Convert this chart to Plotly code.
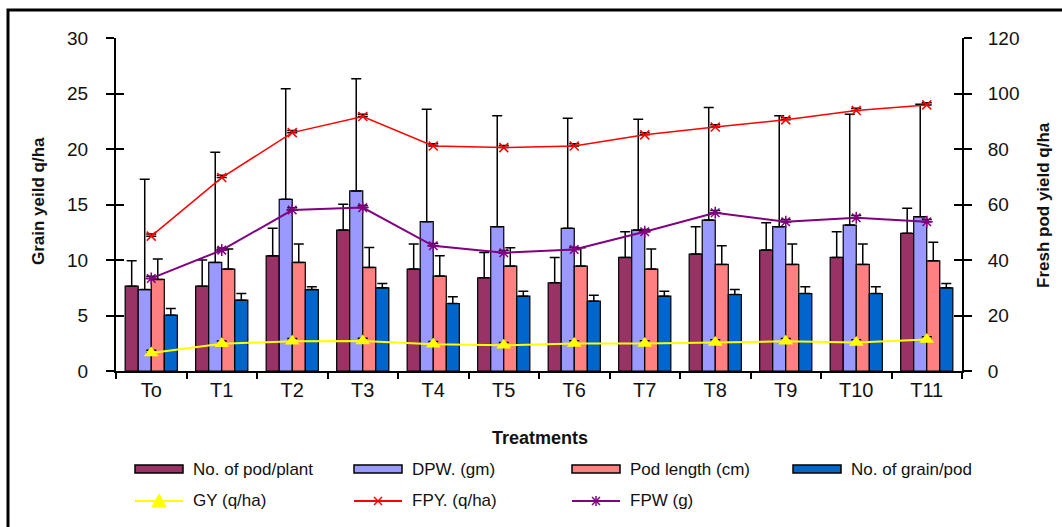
import plotly.graph_objects as go

# ---------------- data ----------------
treatments = ["To", "T1", "T2", "T3", "T4", "T5", "T6", "T7", "T8", "T9", "T10", "T11"]

pod_per_plant = [7.64, 7.64, 10.38, 12.70, 9.18, 8.40, 7.95, 10.23, 10.53, 10.89, 10.23, 12.40]
pod_per_plant_err = [2.29, 2.35, 2.47, 2.32, 2.26, 2.28, 2.28, 2.32, 2.47, 2.47, 2.32, 2.26]

dpw = [7.34, 9.78, 15.47, 16.22, 13.45, 13.00, 12.85, 12.70, 13.60, 13.00, 13.15, 13.90]
dpw_err = [9.93, 9.93, 9.96, 10.11, 10.14, 9.99, 9.93, 9.99, 10.14, 9.99, 9.99, 10.14]

pod_length = [8.25, 9.18, 9.78, 9.33, 8.55, 9.45, 9.45, 9.18, 9.60, 9.60, 9.60, 9.93]
pod_length_err = [1.83, 1.80, 1.66, 1.80, 1.83, 1.65, 1.65, 1.80, 1.68, 1.84, 1.84, 1.66]

grain_per_pod = [5.03, 6.38, 7.34, 7.49, 6.08, 6.74, 6.29, 6.74, 6.89, 6.98, 6.98, 7.49]
grain_per_pod_err = [0.60, 0.60, 0.24, 0.39, 0.60, 0.45, 0.54, 0.45, 0.45, 0.60, 0.60, 0.39]

gy = [1.62, 2.45, 2.68, 2.71, 2.41, 2.32, 2.47, 2.47, 2.56, 2.68, 2.56, 2.83]
gy_err = [0.25, 0.25, 0.25, 0.25, 0.25, 0.25, 0.25, 0.25, 0.25, 0.25, 0.25, 0.25]

fpy = [48.6, 69.7, 85.9, 91.7, 81.1, 80.5, 81.1, 85.1, 87.9, 90.5, 93.9, 95.9]
fpy_err = [0.8, 0.8, 0.8, 0.8, 0.8, 0.8, 0.8, 0.8, 0.8, 0.8, 0.8, 0.8]

fpw = [8.34, 10.89, 14.50, 14.72, 11.28, 10.65, 10.95, 12.55, 14.26, 13.45, 13.81, 13.45]
fpw_err = [0.2, 0.2, 0.2, 0.2, 0.2, 0.2, 0.2, 0.2, 0.2, 0.2, 0.2, 0.2]

bar_names = ["No. of pod/plant", "DPW. (gm)", "Pod length (cm)", "No. of grain/pod"]
bar_colors = ["#993366", "#9999FF", "#FF8080", "#0066CC"]
line_names = ["GY (q/ha)", "FPY. (q/ha)", "FPW (g)"]
line_colors = ["#FFFF00", "#FF0000", "#800080"]

# ---------------- layout geometry ----------------
W, H = 1062, 527
L, R, T, B = 116, 962, 38, 371  # plot area in pixels
FONT = "Liberation Sans, Arial, sans-serif"
TXT = "#111111"


def px(x):
    return (x - L) / (R - L)


def py(y):
    return (B - y) / (B - T)


zeros = [0] * len(treatments)

fig = go.Figure()

bar_vals = [pod_per_plant, dpw, pod_length, grain_per_pod]
bar_errs = [pod_per_plant_err, dpw_err, pod_length_err, grain_per_pod_err]
for name, vals, errs, col in zip(bar_names, bar_vals, bar_errs, bar_colors):
    fig.add_trace(go.Bar(
        x=treatments, y=vals, name=name, yaxis="y",
        marker=dict(color=col, line=dict(color="black", width=1.2)),
        error_y=dict(type="data", symmetric=False, array=errs, arrayminus=zeros,
                     color="black", thickness=1.5, width=5),
        showlegend=False,
    ))

err_style = dict(type="data", symmetric=False, arrayminus=zeros,
                 color="black", thickness=1.5, width=5)

fig.add_trace(go.Scatter(
    x=treatments, y=gy, name=line_names[0], yaxis="y", mode="lines+markers",
    line=dict(color=line_colors[0], width=2),
    marker=dict(symbol="triangle-up", size=13, color=line_colors[0]),
    error_y=dict(array=gy_err, **err_style), showlegend=False,
))
fig.add_trace(go.Scatter(
    x=treatments, y=fpw, name=line_names[2], yaxis="y", mode="lines+markers",
    line=dict(color=line_colors[2], width=2),
    marker=dict(symbol="asterisk-open", size=10, color=line_colors[2],
                line=dict(color=line_colors[2], width=1.5)),
    error_y=dict(array=fpw_err, **err_style), showlegend=False,
))
fig.add_trace(go.Scatter(
    x=treatments, y=fpy, name=line_names[1], yaxis="y2", mode="lines+markers",
    line=dict(color=line_colors[1], width=1.5),
    marker=dict(symbol="x-thin-open", size=9, color=line_colors[1],
                line=dict(color=line_colors[1], width=1.5)),
    error_y=dict(array=fpy_err, **err_style), showlegend=False,
))
# empty helper traces so the inner-tick axes are drawn
fig.add_trace(go.Scatter(x=[treatments[0]], y=[None], yaxis="y3", showlegend=False, hoverinfo="skip"))
fig.add_trace(go.Scatter(x=[treatments[0]], y=[None], yaxis="y4", showlegend=False, hoverinfo="skip"))

yax_common = dict(showgrid=False, zeroline=False, tickcolor="black", tickwidth=1.5,
                  tickfont=dict(family=FONT, size=19, color=TXT))

fig.update_layout(
    width=W, height=H,
    margin=dict(l=L, r=W - R, t=T, b=H - B, pad=0),
    paper_bgcolor="white", plot_bgcolor="white",
    barmode="group", bargap=0.26, bargroupgap=0,
    font=dict(family=FONT, color=TXT),
    xaxis=dict(type="category", categoryorder="array", categoryarray=treatments,
               range=[-0.5, len(treatments) - 0.5], showline=True, linecolor="black",
               linewidth=2, ticks="outside", ticklen=6, tickwidth=1.5, tickcolor="black",
               tickson="boundaries", showgrid=False, zeroline=False,
               tickfont=dict(family=FONT, size=20, color=TXT)),
    yaxis=dict(range=[0, 30], dtick=5, showline=True, linecolor="black", linewidth=2,
               ticks="outside", ticklen=8, ticklabelstandoff=14, **yax_common),
    yaxis3=dict(range=[0, 30], dtick=5, overlaying="y", side="left", ticks="inside",
                ticklen=8, showticklabels=False, showline=False, **yax_common),
    yaxis2=dict(range=[0, 120], dtick=20, overlaying="y", side="right", showline=True,
                linecolor="black", linewidth=2, ticks="outside", ticklen=8,
                ticklabelstandoff=12, **yax_common),
    yaxis4=dict(range=[0, 120], dtick=20, overlaying="y", side="right", ticks="inside",
                ticklen=8, showticklabels=False, showline=False, **yax_common),
)

shapes = []
annotations = []

# outer frame (left and top edges visible)
shapes.append(dict(type="path", xref="paper", yref="paper",
                   path=f"M{px(8)},{py(H + 5)} L{px(8)},{py(10)} L{px(W + 5)},{py(10)}",
                   line=dict(color="black", width=3)))

# axis titles
annotations.append(dict(text="<b>Grain yeild q/ha</b>", xref="paper", yref="paper",
                        x=px(38), y=py(201), textangle=-90, showarrow=False,
                        xanchor="center", yanchor="middle",
                        font=dict(family=FONT, size=17, color=TXT)))
annotations.append(dict(text="<b>Fresh pod yield q/ha</b>", xref="paper", yref="paper",
                        x=px(1043), y=py(205), textangle=-90, showarrow=False,
                        xanchor="center", yanchor="middle",
                        font=dict(family=FONT, size=17, color=TXT)))
annotations.append(dict(text="<b>Treatments</b>", xref="paper", yref="paper",
                        x=px(540), y=py(438), showarrow=False,
                        xanchor="center", yanchor="middle",
                        font=dict(family=FONT, size=18, color=TXT)))

# custom legend
cols = [135, 354, 572, 793]
row1, row2 = 469, 501
sw = 48
for i, (name, col) in enumerate(zip(bar_names, bar_colors)):
    x0 = cols[i]
    shapes.append(dict(type="rect", xref="paper", yref="paper",
                       x0=px(x0), x1=px(x0 + sw), y0=py(row1 + 4), y1=py(row1 - 4),
                       fillcolor=col, line=dict(color="black", width=1.5)))
    annotations.append(dict(text=name, xref="paper", yref="paper", x=px(x0 + sw + 8),
                            y=py(row1), xanchor="left", yanchor="middle", showarrow=False,
                            font=dict(family=FONT, size=17, color=TXT)))

for i, (name, col) in enumerate(zip(line_names, line_colors)):
    x0 = cols[i]
    cx = x0 + sw / 2
    shapes.append(dict(type="line", xref="paper", yref="paper",
                       x0=px(x0), x1=px(x0 + sw), y0=py(row2), y1=py(row2),
                       line=dict(color=col, width=2)))
    if i == 0:
        shapes.append(dict(type="path", xref="paper", yref="paper",
                           path=f"M{px(cx - 7)},{py(row2 + 6)} L{px(cx + 7)},{py(row2 + 6)} L{px(cx)},{py(row2 - 7)} Z",
                           fillcolor=col, line=dict(color=col, width=1)))
    elif i == 1:
        for d in (1, -1):
            shapes.append(dict(type="line", xref="paper", yref="paper",
                               x0=px(cx - 4), x1=px(cx + 4), y0=py(row2 - 4 * d), y1=py(row2 + 4 * d),
                               line=dict(color=col, width=1.5)))
    else:
        for d in (1, -1):
            shapes.append(dict(type="line", xref="paper", yref="paper",
                               x0=px(cx - 4), x1=px(cx + 4), y0=py(row2 - 4 * d), y1=py(row2 + 4 * d),
                               line=dict(color=col, width=1.5)))
        shapes.append(dict(type="line", xref="paper", yref="paper",
                           x0=px(cx), x1=px(cx), y0=py(row2 - 5), y1=py(row2 + 5),
                           line=dict(color=col, width=1.5)))
    annotations.append(dict(text=name, xref="paper", yref="paper", x=px(x0 + sw + 8),
                            y=py(row2), xanchor="left", yanchor="middle", showarrow=False,
                            font=dict(family=FONT, size=17, color=TXT)))

fig.update_layout(shapes=shapes, annotations=annotations)

fig.write_html("out.html", config={"displayModeBar": False},
               post_script="document.body.style.margin='0';document.body.style.overflow='hidden';")
